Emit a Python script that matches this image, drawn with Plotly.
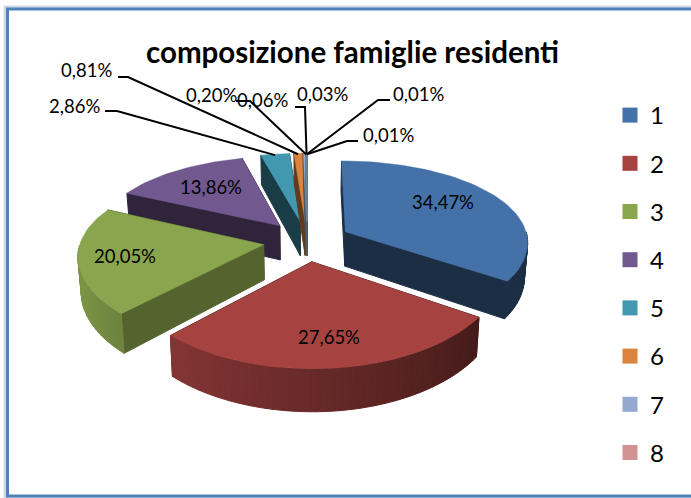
import math
import plotly.graph_objects as go

TITLE = "composizione famiglie residenti"
categories = ["1", "2", "3", "4", "5", "6", "7", "8", "9", "10", "11"]
values = [34.47, 27.65, 20.05, 13.86, 2.86, 0.81, 0.20, 0.06, 0.03, 0.01, 0.01]
value_labels = ["34,47%", "27,65%", "20,05%", "13,86%", "2,86%", "0,81%", "0,20%", "0,06%", "0,03%", "0,01%", "0,01%"]
legend_count = 8

colors = ["#4472A8", "#A64341", "#89A54E", "#71588F", "#4198AF", "#DB843D",
          "#93A9CF", "#D19392", "#B9CD96", "#A99BBD", "#91C3D5"]
radial_shade = [0.41, 0.41, 0.61, 0.42, 0.40, 0.45, 0.5, 0.5, 0.5, 0.5, 0.5]

# pixel placement of the value labels (centre x, centre y)
label_pos = [(443, 202), (329, 337), (125, 256), (211, 187), (74, 106), (86, 70),
             (211, 95), (262, 100), (322, 94), (418, 94), (388, 135)]
# leader elbows for the outer labels: (start x, elbow x, y)
leaders = {4: (105, 117, 111), 5: (118, 128, 77), 7: (236, 250, 101),
           8: (295, 305, 107), 9: (390, 378, 100), 10: (358, 347, 141)}

# projection of the tilted pie
CX, CY = 307, 241
RX, RY, K = 183, 84, 0.15
EXPLODE = 0.24
HEIGHT = 35


def proj(X, Y, lower=False):
    p = 1 / (1 - K * Y)
    sx = RX * X * p ** 0.75
    sy = CY + RY * Y * p
    if lower:
        return CX + sx * 0.985, sy + HEIGHT * p
    return CX + sx, sy


def apex(mid):
    return EXPLODE * math.sin(mid), -EXPLODE * math.cos(mid)


def rim(theta, mid):
    ax, ay = apex(mid)
    return ax + math.sin(theta), ay - math.cos(theta)


def shade(hex_color, f):
    r, g, b = (int(hex_color[i:i + 2], 16) for i in (1, 3, 5))
    return "#%02X%02X%02X" % (int(r * f), int(g * f), int(b * f))


def wall_shade(theta):
    deg = math.degrees(theta)
    return min(0.9, max(0.41, 0.41 + (deg - 124) * 0.0039))


total = sum(values)
slices = []
start = 0.0
for v in values:
    a0 = start / total * 2 * math.pi
    a1 = (start + v) / total * 2 * math.pi
    slices.append((a0, a1, (a0 + a1) / 2))
    start += v

fig = go.Figure()


def poly(pts, color, width=1.0):
    fig.add_trace(go.Scatter(x=[p[0] for p in pts] + [pts[0][0]], y=[p[1] for p in pts] + [pts[0][1]],
                             mode="lines", fill="toself", fillcolor=color,
                             line=dict(color=color, width=width),
                             hoverinfo="skip", showlegend=False))


order = [3, 4, 5, 6, 7, 8, 9, 10, 0, 2, 1]
for i in order:
    a0, a1, mid = slices[i]
    c = colors[i]
    ap = apex(mid)
    # radial walls
    for edge in (a1, a0):
        r = rim(edge, mid)
        poly([proj(*ap), proj(*r), proj(*r, lower=True), proj(*ap, lower=True)], shade(c, radial_shade[i]))
    # outer wall, in shaded strips; only the part that faces the viewer
    n = max(1, int(math.degrees(a1 - a0) / 2))
    for j in range(n):
        t0 = a0 + (a1 - a0) * j / n
        t1 = a0 + (a1 - a0) * (j + 1) / n
        if math.cos((t0 + t1) / 2) > 0:
            continue
        r0, r1 = rim(t0, mid), rim(t1, mid)
        poly([proj(*r0), proj(*r1), proj(*r1, lower=True), proj(*r0, lower=True)],
             shade(c, wall_shade((t0 + t1) / 2)))
    # top face
    m = max(2, int(math.degrees(a1 - a0) / 2))
    top = [proj(*ap)] + [proj(*rim(a0 + (a1 - a0) * j / m, mid)) for j in range(m + 1)]
    poly(top, c, width=0.4)

# leader lines, ending on the rim of each small slice
for i, (x0, x1, y) in leaders.items():
    a0, a1, mid = slices[i]
    ex, ey = proj(*rim(mid, mid))
    fig.add_trace(go.Scatter(x=[x0, x1, ex], y=[y, y, ey + 1], mode="lines",
                             line=dict(color="black", width=2), hoverinfo="skip", showlegend=False))

# value labels
for text, (x, y) in zip(value_labels, label_pos):
    fig.add_annotation(x=x, y=y, xref="x", yref="y", text=text, showarrow=False,
                       font=dict(family="Lato", size=18.5, color="black"))

# legend entries
for i in range(legend_count):
    fig.add_trace(go.Scatter(x=[None], y=[None], mode="markers", name=categories[i],
                             legendgroup=categories[i],
                             marker=dict(symbol="square", size=15, color=colors[i])))

# chart frame
fig.add_shape(type="rect", x0=5, y0=7, x1=705, y1=498, xref="x", yref="y",
              line=dict(color="#CFD8E6", width=3), layer="below")
fig.add_shape(type="rect", x0=7.5, y0=9, x1=703, y1=496, xref="x", yref="y",
              line=dict(color="#4F81BD", width=3), fillcolor="white", layer="below")

fig.update_layout(
    width=691, height=498, autosize=False,
    margin=dict(l=0, r=0, t=0, b=0),
    paper_bgcolor="white", plot_bgcolor="white",
    xaxis=dict(range=[0, 691], visible=False, fixedrange=True),
    yaxis=dict(range=[498, 0], visible=False, fixedrange=True),
    legend=dict(x=610 / 691, xanchor="left", y=1 - 93 / 498, yanchor="top",
                font=dict(family="Lato", size=24, color="black"),
                tracegroupgap=14, bgcolor="rgba(0,0,0,0)", itemclick=False, itemdoubleclick=False),
    annotations=list(fig.layout.annotations) + [
        dict(x=352, y=51, xref="x", yref="y", text="<b>" + TITLE + "</b>", showarrow=False,
             font=dict(family="Lato", size=29.5, color="black"))],
)

fig.write_html("out.html", config={"displayModeBar": False},
               post_script="document.body.style.margin='0';document.documentElement.style.overflow='hidden';")
